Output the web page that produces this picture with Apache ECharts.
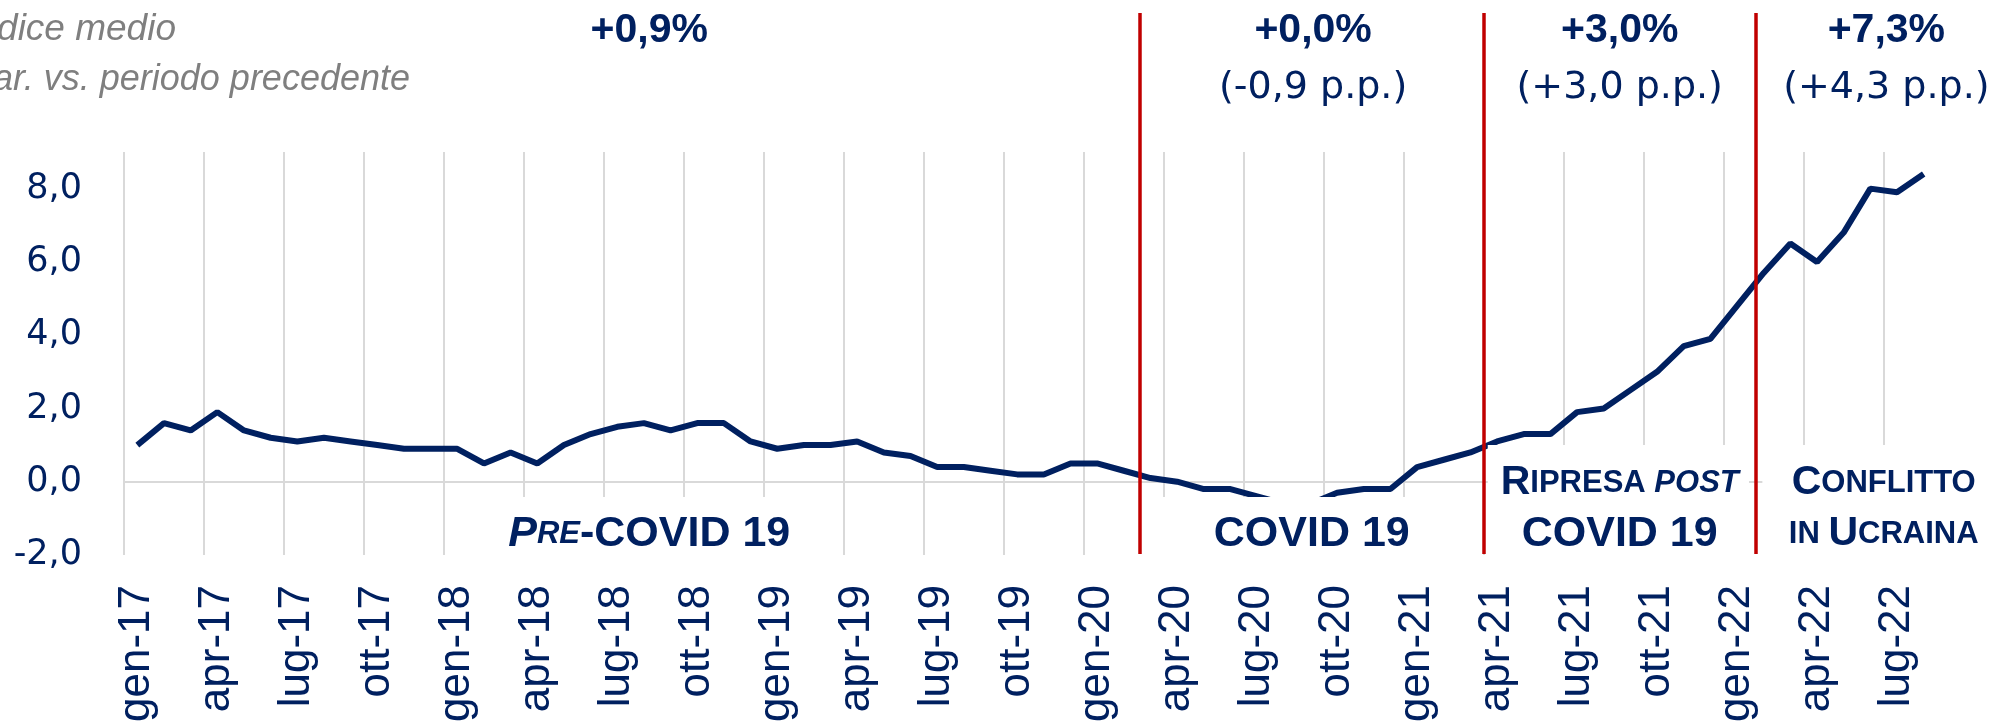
<!DOCTYPE html>
<html>
<head>
<meta charset="utf-8">
<script src="https://cdn.jsdelivr.net/npm/echarts@6/dist/echarts.min.js"></script>
<style>
html,body{margin:0;padding:0;background:#fff}
#main{width:1990px;height:724px}
</style>
</head>
<body>
<div id="main"></div>
<script>
// mesi gen-17 .. ago-22
var mesi = [
  'gen-17','feb-17','mar-17','apr-17','mag-17','giu-17','lug-17','ago-17','set-17','ott-17','nov-17','dic-17',
  'gen-18','feb-18','mar-18','apr-18','mag-18','giu-18','lug-18','ago-18','set-18','ott-18','nov-18','dic-18',
  'gen-19','feb-19','mar-19','apr-19','mag-19','giu-19','lug-19','ago-19','set-19','ott-19','nov-19','dic-19',
  'gen-20','feb-20','mar-20','apr-20','mag-20','giu-20','lug-20','ago-20','set-20','ott-20','nov-20','dic-20',
  'gen-21','feb-21','mar-21','apr-21','mag-21','giu-21','lug-21','ago-21','set-21','ott-21','nov-21','dic-21',
  'gen-22','feb-22','mar-22','apr-22','mag-22','giu-22','lug-22','ago-22'
];
var valori = [
  1.0, 1.6, 1.4, 1.9, 1.4, 1.2, 1.1, 1.2, 1.1, 1.0, 0.9, 0.9,
  0.9, 0.5, 0.8, 0.5, 1.0, 1.3, 1.5, 1.6, 1.4, 1.6, 1.6, 1.1,
  0.9, 1.0, 1.0, 1.1, 0.8, 0.7, 0.4, 0.4, 0.3, 0.2, 0.2, 0.5,
  0.5, 0.3, 0.1, 0.0, -0.2, -0.2, -0.4, -0.6, -0.6, -0.3, -0.2, -0.2,
  0.4, 0.6, 0.8, 1.1, 1.3, 1.3, 1.9, 2.0, 2.5, 3.0, 3.7, 3.9,
  4.8, 5.7, 6.5, 6.0, 6.8, 8.0, 7.9, 8.4
];
// separatori tra i periodi (in mesi dal bordo sinistro)
var separatori = [38.1, 51, 61.2];
var variazioni = ['+0,9%', '+0,0%', '+3,0%', '+7,3%'];
var differenze = ['', '(-0,9 p.p.)', '(+3,0 p.p.)', '(+4,3 p.p.)'];
var centriPeriodo = [19.7, 44.6, 56.1, 66.1];

var NAVY = '#002060';
var GRIGIO = '#d9d9d9';
var ROSSO = '#c00000';

// una linea verticale ogni trimestre, nessuna sul bordo destro
var coloriGriglia = [];
for (var k = 0; k < 23; k++) coloriGriglia.push(GRIGIO);
coloriGriglia.push('rgba(0,0,0,0)');

var chart = echarts.init(document.getElementById('main'));
chart.setOption({
  animation: false,
  grid: {left: 124, right: 53, top: 152, bottom: 169, containLabel: false, outerBoundsMode: 'none'},
  xAxis: [{
    type: 'category', data: mesi, boundaryGap: true,
    axisLine: {show: false, onZero: false},
    axisTick: {show: false},
    axisLabel: {interval: 2, rotate: 90, margin: 30, color: NAVY, fontFamily: 'Liberation Sans', fontSize: 44},
    splitLine: {show: true, interval: 2, lineStyle: {color: coloriGriglia, width: 2}}
  }, {
    type: 'category', data: mesi, position: 'bottom',
    axisLine: {show: true, onZero: true, onZeroAxisIndex: 0, lineStyle: {color: GRIGIO, width: 2}},
    axisTick: {show: false}, axisLabel: {show: false}, splitLine: {show: false}
  }],
  yAxis: {
    type: 'value', min: -2, max: 9, interval: 2,
    axisLine: {show: false}, axisTick: {show: false}, splitLine: {show: false},
    axisLabel: {
      showMaxLabel: false, margin: 42, color: NAVY, fontFamily: 'DejaVu Sans', fontSize: 35,
      formatter: function (v) { return v.toFixed(1).replace('.', ','); }
    }
  },
  series: [{
    type: 'line', data: valori, symbol: 'none', z: 3,
    lineStyle: {color: NAVY, width: 6}
  }]
});

function xu(u) {
  var a = chart.convertToPixel({xAxisIndex: 0}, 0);
  var b = chart.convertToPixel({xAxisIndex: 0}, 1);
  return a + (u - 0.5) * (b - a);
}
var yFondo = chart.convertToPixel({yAxisIndex: 0}, -2);

var BOLD = 'bold 41px "Liberation Sans"';
var g = [];

// testi in alto a sinistra (tagliati dal bordo)
g.push({type: 'text', z: 70, style: {x: 176, y: 30, text: 'Indice medio', align: 'right', verticalAlign: 'middle',
  font: 'italic 37px "Liberation Sans"', fill: '#7f7f7f'}});
g.push({type: 'text', z: 70, style: {x: 410, y: 80, text: 'Var. vs. periodo precedente', align: 'right', verticalAlign: 'middle',
  font: 'italic 36px "Liberation Sans"', fill: '#7f7f7f'}});

// variazioni per periodo
for (var i = 0; i < variazioni.length; i++) {
  g.push({type: 'text', z: 70, style: {x: xu(centriPeriodo[i]), y: 31, text: variazioni[i], align: 'center', verticalAlign: 'middle',
    font: BOLD, fill: NAVY}});
  if (differenze[i]) {
    g.push({type: 'text', z: 70, style: {x: xu(centriPeriodo[i]), y: 88, text: differenze[i], align: 'center', verticalAlign: 'middle',
      font: '38px "DejaVu Sans"', fill: NAVY}});
  }
}

// riquadri bianchi sotto le etichette dei periodi
var riquadri = [
  {u0: 12.2, u1: 26.7, top: 497},
  {u0: 38.5, u1: 50.5, top: 497},
  {u0: 51.15, u1: 60.95, top: 445},
  {u0: 61.45, u1: 72, top: 445}
];
riquadri.forEach(function (r) {
  var x0 = xu(r.u0), x1 = xu(r.u1);
  g.push({type: 'rect', z: 50, shape: {x: x0, y: r.top, width: x1 - x0, height: yFondo + 3 - r.top},
    style: {fill: '#ffffff'}});
});

// etichette dei periodi
var rich = {
  b: {font: 'bold 43px "Liberation Sans"', fill: NAVY, lineHeight: 51},
  bi: {font: 'italic bold 43px "Liberation Sans"', fill: NAVY, lineHeight: 51},
  r: {font: 'bold 41px "Liberation Sans"', fill: NAVY, lineHeight: 51},
  s: {font: 'bold 31px "Liberation Sans"', fill: NAVY, lineHeight: 51},
  si: {font: 'italic bold 31px "Liberation Sans"', fill: NAVY, lineHeight: 51}
};
var etichette = [
  {t: '{bi|P}{si|RE}{b|-COVID 19}', c: 19.7, y: 534.5},
  {t: '{b|COVID 19}', c: 44.55, y: 534.5},
  {t: '{r|R}{s|IPRESA }{si|POST}\n{b|COVID 19}', c: 56.1, y: 508.5},
  {t: '{r|C}{s|ONFLITTO}\n{s|IN }{r|U}{s|CRAINA}', c: 66.0, y: 508.5}
];
etichette.forEach(function (e) {
  g.push({type: 'text', z: 55, style: {x: xu(e.c), y: e.y, text: e.t, rich: rich, align: 'center', verticalAlign: 'middle',
    fill: NAVY}});
});

// linee rosse di separazione
separatori.forEach(function (s) {
  var x = Math.round(xu(s));
  g.push({type: 'line', z: 60, shape: {x1: x, y1: 13, x2: x, y2: yFondo - 1},
    style: {stroke: ROSSO, lineWidth: 3.5}});
});

chart.setOption({graphic: {elements: g}});
</script>
</body>
</html>
